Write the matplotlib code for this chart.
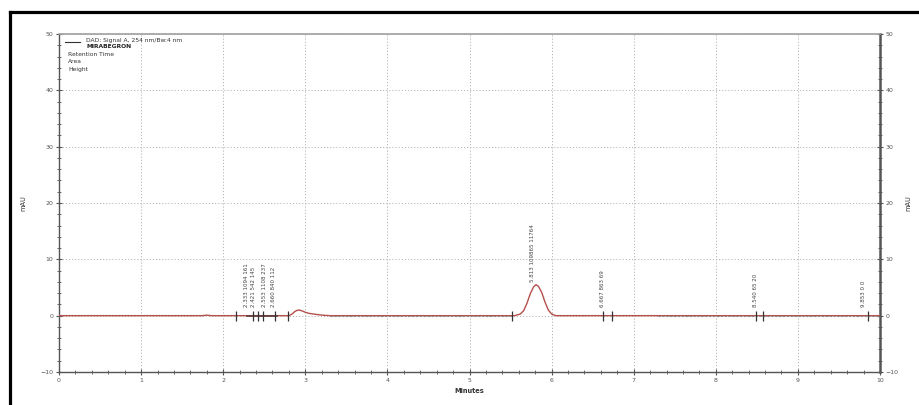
import matplotlib

matplotlib.use("Agg")
import matplotlib.pyplot as plt
from matplotlib.lines import Line2D
from matplotlib.ticker import MultipleLocator

# signal trace (minutes, mAU)
trace_t = [0.0, 1.75, 1.8, 1.85, 2.8, 2.84, 2.87, 2.9, 2.93, 2.96, 3.0, 3.05, 3.12, 3.2, 3.3,
           5.55, 5.62, 5.66, 5.70, 5.74, 5.78, 5.81, 5.84, 5.88, 5.92, 5.96, 6.0, 6.05, 10.0]
trace_mau = [0.0, 0.0, 0.1, 0.0, 0.0, 0.3, 0.7, 0.95, 1.0, 0.85, 0.6, 0.4, 0.25, 0.1, 0.0,
             0.0, 0.3, 0.9, 2.2, 3.9, 5.1, 5.5, 5.2, 4.1, 2.4, 1.0, 0.3, 0.0, 0.0]

# integration results: retention time, area, height
peak_rt = [2.333, 2.421, 2.553, 2.660, 5.813, 6.667, 8.540, 9.853]
peak_area = [1094, 542, 1108, 840, 109865, 863, 65, 0]
peak_height = [161, 145, 237, 112, 11764, 69, 20, 0]

# integration event marks (minutes)
mark_t = [2.16, 2.36, 2.42, 2.48, 2.63, 2.79, 5.52, 6.63, 6.74, 8.49, 8.57, 9.85]

legend_lines = ["DAD: Signal A, 254 nm/Bw:4 nm", "MIRABEGRON"]
legend_fields = ["Retention Time", "Area", "Height"]

W, H = 919, 405
fig = plt.figure(figsize=(W / 100, H / 100), dpi=100)
fig.patch.set_facecolor("white")

# outer black frame (only left and top edges are visible in the crop)
fx, fy = 9.5 / W, 1 - 11.5 / H
fig.add_artist(Line2D([fx, fx], [0, fy], transform=fig.transFigure, color="black", lw=2.3))
fig.add_artist(Line2D([fx, 1], [fy, fy], transform=fig.transFigure, color="black", lw=2.3))

ax = fig.add_axes([59 / W, 33 / H, 821 / W, 338 / H])
ax.set_xlim(0, 10)
ax.set_ylim(-10, 50)

axis_col = "#555555"
for side in ("left", "bottom"):
    ax.spines[side].set_color(axis_col)
    ax.spines[side].set_linewidth(1.0)
ax.spines["top"].set_color("#a0a0a0")
ax.spines["top"].set_linewidth(1.2)
ax.spines["right"].set_color("#555555")
ax.spines["right"].set_linewidth(1.8)

ax.xaxis.set_major_locator(MultipleLocator(1))
ax.xaxis.set_minor_locator(MultipleLocator(0.2))
ax.yaxis.set_major_locator(MultipleLocator(10))
ax.yaxis.set_minor_locator(MultipleLocator(2))
ax.tick_params(which="both", direction="inout", colors=axis_col, labelsize=4.5, pad=2)
ax.tick_params(which="major", length=4, width=0.8)
ax.tick_params(which="minor", length=2.5, width=0.6)
ax.tick_params(axis="y", which="both", right=True, labelright=True)

ax.grid(True, which="major", color="#b4b4b4", linestyle=(0, (1.2, 2)), linewidth=0.7)
ax.set_axisbelow(True)

ax.set_xlabel("Minutes", fontsize=4.8, fontweight="bold", color="#333333", labelpad=4)
ax.set_ylabel("mAU", fontsize=4.8, color="#333333", labelpad=10)
ax.text(1.035, 0.5, "mAU", transform=ax.transAxes, rotation=90, fontsize=4.8,
        color="#333333", ha="center", va="center")

# signal
ax.plot(trace_t, trace_mau, color="#b5504b", lw=1.0, zorder=3)
ax.plot([3.3, 5.5], [0, 0], color="#8a8a8a", lw=0.8, linestyle=(0, (2, 1.5)), zorder=4)
ax.plot([7.3, 10.0], [0, 0], color="#8a8a8a", lw=0.8, linestyle=(0, (2, 1.5)), zorder=4)
ax.plot([2.29, 2.66], [0, 0], color="#5a3a3a", lw=1.2, zorder=4)

# integration marks
ax.vlines(mark_t, -1.0, 0.9, color="#333333", lw=0.9, zorder=5)

# peak labels: retention time, area, height
for rt, area, height in zip(peak_rt, peak_area, peak_height):
    near = [v for t, v in zip(trace_t, trace_mau) if abs(t - rt) < 0.05]
    base = max(near + [0.0])
    y0 = base + (0.5 if base > 1 else 1.6)
    ax.text(rt - 0.02, y0, f"{rt:.3f} {area} {height}", rotation=90, fontsize=4.0,
            color="#444444", ha="right", va="bottom", zorder=6)

# legend block
ax.plot([0.07, 0.25], [48.6, 48.6], color="#333333", lw=0.8, clip_on=False)
ax.text(0.33, 48.9, legend_lines[0], fontsize=4.3, color="#333333", va="center")
ax.text(0.33, 47.7, legend_lines[1], fontsize=4.3, color="#222222", va="center",
        fontweight="bold")
for i, field in enumerate(legend_fields):
    ax.text(0.11, 46.4 - i * 1.35, field, fontsize=4.3, color="#333333", va="center")

fig.savefig("out.png", dpi=100)
